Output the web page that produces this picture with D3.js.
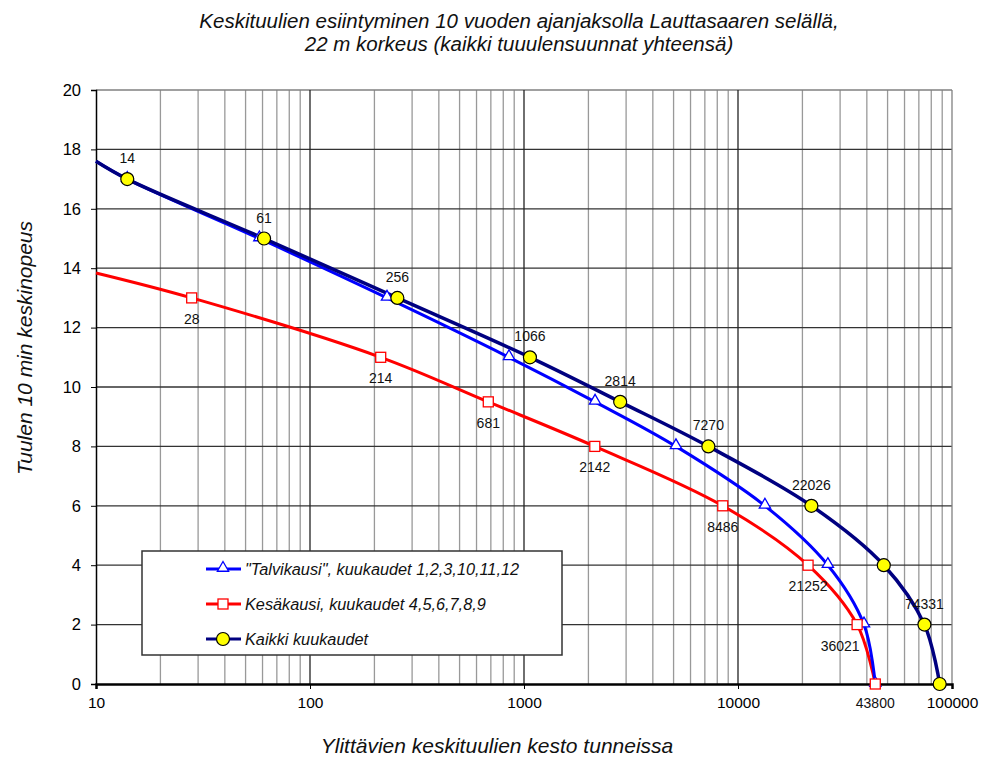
<!DOCTYPE html>
<html>
<head>
<meta charset="utf-8">
<script src="https://cdn.jsdelivr.net/npm/d3@7"></script>
<style>
  body { margin: 0; background: #fff; }
  text { font-family: "Liberation Sans", Arial, sans-serif; }
</style>
</head>
<body>
<div id="chart"></div>
<script>
// tuntimaarat (hours exceeded) ja nopeudet
var kaikkiHours = [10, 14, 61, 256, 1066, 2814, 7270, 22026, 48000, 74331, 87600];
var kaikkiSpeed = [17.6, 17, 15, 13, 11, 9.5, 8, 6, 4, 2, 0];
var kaikkiLabels = [null, "14", "61", "256", "1066", "2814", "7270", "22026", null, "74331", null];

var talviHours = [10, 14, 58, 229, 851, 2148, 5130, 13360, 26300, 38800, 43800];
var talviSpeed = [17.6, 17, 15, 13, 11, 9.5, 8, 6, 4, 2, 0];

var kesaHours = [10, 28, 214, 681, 2142, 8486, 21252, 36021, 43800];
var kesaSpeed = [13.84, 13, 11, 9.5, 8, 6, 4, 2, 0];
var kesaLabels = [null, "28", "214", "681", "2142", "8486", "21252", "36021", "43800"];

var xTicks = [10, 100, 1000, 10000, 100000];
var yTicks = [0, 2, 4, 6, 8, 10, 12, 14, 16, 18, 20];

var W = 992, H = 759;

var svg = d3.select("#chart").append("svg")
  .attr("width", W).attr("height", H);

var x = d3.scaleLog().domain([10, 100000]).range([96, 952]);
var y = d3.scaleLinear().domain([0, 20]).range([684, 90]);

// minor vertical grid (2..9 each decade)
var minor = [];
for (var d = 10; d < 100000; d *= 10) {
  for (var k = 2; k <= 9; k++) minor.push(d * k);
}
svg.append("g").selectAll("line").data(minor).enter().append("line")
  .attr("x1", function(v) { return x(v); }).attr("x2", function(v) { return x(v); })
  .attr("y1", y(0)).attr("y2", y(20))
  .attr("stroke", "#999").attr("stroke-width", 1.3);

// horizontal grid
svg.append("g").selectAll("line").data(yTicks.slice(1)).enter().append("line")
  .attr("x1", x(10)).attr("x2", x(100000))
  .attr("y1", function(v) { return y(v); }).attr("y2", function(v) { return y(v); })
  .attr("stroke", function(v) { return v === 20 ? "#808080" : "#333"; })
  .attr("stroke-width", 1.3);

// major vertical grid
svg.append("g").selectAll("line").data(xTicks.slice(1)).enter().append("line")
  .attr("x1", function(v) { return x(v); }).attr("x2", function(v) { return x(v); })
  .attr("y1", y(0)).attr("y2", y(20))
  .attr("stroke", function(v) { return v === 100000 ? "#808080" : "#222"; })
  .attr("stroke-width", 1.3);

// y axis
var yAxis = svg.append("g").attr("transform", "translate(" + x(10) + ",0)")
  .call(d3.axisLeft(y).tickValues(yTicks).tickSize(5).tickPadding(10));
yAxis.select(".domain").attr("stroke", "#000").attr("stroke-width", 1.5);
yAxis.selectAll(".tick line").attr("stroke", "#000");
yAxis.selectAll("text").style("font-size", "16.5px").attr("fill", "#000");

// x axis
var xAxis = svg.append("g").attr("transform", "translate(0," + y(0) + ")")
  .call(d3.axisBottom(x).tickValues(xTicks).tickFormat(d3.format("d")).tickSize(5).tickPadding(8));
xAxis.select(".domain").attr("stroke", "#000").attr("stroke-width", 2.5);
xAxis.selectAll(".tick line").attr("stroke", "#000");
xAxis.selectAll("text").style("font-size", "15.5px").attr("fill", "#000");

var curve = d3.curveCatmullRom.alpha(0.5);
function lineFor(hours, speed) {
  return d3.line().curve(curve)
    .x(function(i) { return x(hours[i]); })
    .y(function(i) { return y(speed[i]); })(d3.range(hours.length));
}

// series lines
svg.append("path").attr("d", lineFor(kesaHours, kesaSpeed))
  .attr("fill", "none").attr("stroke", "#ff0000").attr("stroke-width", 3);
svg.append("path").attr("d", lineFor(talviHours, talviSpeed))
  .attr("fill", "none").attr("stroke", "#0000ff").attr("stroke-width", 3);
svg.append("path").attr("d", lineFor(kaikkiHours, kaikkiSpeed))
  .attr("fill", "none").attr("stroke", "#000080").attr("stroke-width", 3.5);

var tri = d3.symbol().type(d3.symbolTriangle).size(55);

// markers (skip first point at the axis edge)
svg.append("g").selectAll("path").data(d3.range(1, talviHours.length)).enter().append("path")
  .attr("d", tri)
  .attr("transform", function(i) { return "translate(" + x(talviHours[i]) + "," + (y(talviSpeed[i]) - 1) + ")"; })
  .attr("fill", "#fff").attr("stroke", "#0000ff").attr("stroke-width", 1.3);

svg.append("g").selectAll("rect").data(d3.range(1, kesaHours.length)).enter().append("rect")
  .attr("x", function(i) { return x(kesaHours[i]) - 5; })
  .attr("y", function(i) { return y(kesaSpeed[i]) - 5; })
  .attr("width", 10).attr("height", 10)
  .attr("fill", "#fff").attr("stroke", "#ff0000").attr("stroke-width", 1.3);

svg.append("g").selectAll("circle").data(d3.range(1, kaikkiHours.length)).enter().append("circle")
  .attr("cx", function(i) { return x(kaikkiHours[i]); })
  .attr("cy", function(i) { return y(kaikkiSpeed[i]); })
  .attr("r", 6.5)
  .attr("fill", "#ffff00").attr("stroke", "#000").attr("stroke-width", 1.2);

// data labels
svg.append("g").selectAll("text").data(d3.range(kaikkiHours.length).filter(function(i) { return kaikkiLabels[i]; }))
  .enter().append("text")
  .attr("x", function(i) { return x(kaikkiHours[i]); })
  .attr("y", function(i) { return y(kaikkiSpeed[i]) - 16; })
  .attr("text-anchor", "middle")
  .style("font-size", "14px").attr("fill", "#111")
  .text(function(i) { return kaikkiLabels[i]; });

svg.append("g").selectAll("text").data(d3.range(kesaHours.length).filter(function(i) { return kesaLabels[i]; }))
  .enter().append("text")
  .attr("x", function(i) { return x(kesaHours[i]) + (i === 7 ? -17 : 0); })
  .attr("y", function(i) { return y(kesaSpeed[i]) + (i === 8 ? 24 : 26); })
  .attr("text-anchor", "middle")
  .style("font-size", "14px").attr("fill", "#111")
  .text(function(i) { return kesaLabels[i]; });

// legend
var legendItems = [
  {name: "\"Talvikausi\", kuukaudet 1,2,3,10,11,12", color: "#0000ff", marker: "tri"},
  {name: "Kesäkausi, kuukaudet 4,5,6,7,8,9", color: "#ff0000", marker: "sq"},
  {name: "Kaikki kuukaudet", color: "#000080", marker: "circ"}
];
var lg = svg.append("g");
lg.append("rect").attr("x", 142).attr("y", 551).attr("width", 420).attr("height", 104)
  .attr("fill", "#fff").attr("stroke", "#333").attr("stroke-width", 1.5);
legendItems.forEach(function(it, i) {
  var ly = 569 + i * 35;
  lg.append("line").attr("x1", 206).attr("x2", 241).attr("y1", ly).attr("y2", ly)
    .attr("stroke", it.color).attr("stroke-width", 3);
  if (it.marker === "tri") {
    lg.append("path").attr("d", tri).attr("transform", "translate(223," + (ly - 1) + ")")
      .attr("fill", "#fff").attr("stroke", it.color).attr("stroke-width", 1.3);
  } else if (it.marker === "sq") {
    lg.append("rect").attr("x", 218).attr("y", ly - 5).attr("width", 10).attr("height", 10)
      .attr("fill", "#fff").attr("stroke", it.color).attr("stroke-width", 1.3);
  } else {
    lg.append("circle").attr("cx", 223).attr("cy", ly).attr("r", 6.5)
      .attr("fill", "#ffff00").attr("stroke", "#000").attr("stroke-width", 1.2);
  }
  lg.append("text").attr("x", 245).attr("y", ly + 6)
    .style("font-size", "16.3px").style("font-style", "italic").attr("fill", "#111")
    .text(it.name);
});

// titles
var title = svg.append("text").attr("text-anchor", "middle")
  .style("font-size", "20.5px").style("font-style", "italic").attr("fill", "#111");
title.append("tspan").attr("x", 519).attr("y", 28).text("Keskituulien esiintyminen 10 vuoden ajanjaksolla Lauttasaaren selällä,");
title.append("tspan").attr("x", 519).attr("y", 51).text("22 m korkeus (kaikki tuuulensuunnat yhteensä)");

svg.append("text").attr("text-anchor", "middle")
  .attr("transform", "translate(32,348) rotate(-90)")
  .style("font-size", "21px").style("font-style", "italic").attr("fill", "#111")
  .text("Tuulen 10 min keskinopeus");

svg.append("text").attr("text-anchor", "middle").attr("x", 497).attr("y", 753)
  .style("font-size", "21px").style("font-style", "italic").attr("fill", "#111")
  .text("Ylittävien keskituulien kesto tunneissa");
</script>
</body>
</html>
